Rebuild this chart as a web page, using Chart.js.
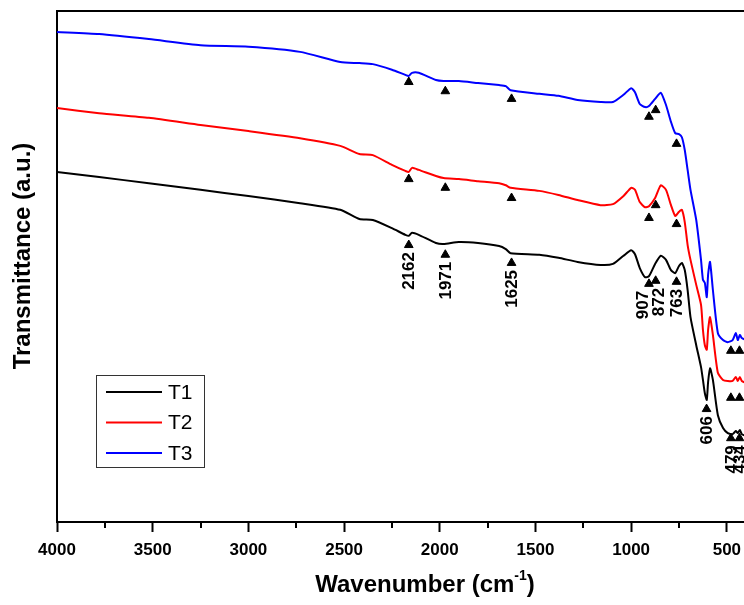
<!DOCTYPE html>
<html>
<head>
<meta charset="utf-8">
<script src="https://cdn.jsdelivr.net/npm/chart.js@4.4.1/dist/chart.umd.min.js"></script>
<style>
  html, body { margin: 0; padding: 0; background: #fff; overflow: hidden; }
  #wrap { position: relative; width: 752px; height: 605px; }
</style>
</head>
<body>
<div id="wrap"><canvas id="ftirChart"></canvas></div>
<script>
// FTIR spectra T1 / T2 / T3 (arbitrary units)
const wavenumbers = [4000, 3780, 3520, 3250, 3000, 2730, 2520, 2420, 2350, 2250, 2180, 2162, 2145, 2110,
  2020, 1980, 1900, 1800, 1690, 1655, 1630, 1480, 1380, 1280, 1160, 1095, 1040, 1000, 980, 955, 927, 907,
  875, 845, 818, 792, 770, 750, 735, 720, 705, 690, 660, 635, 625, 615, 605, 598, 588, 573, 547, 520, 495,
  470, 453, 443, 432, 422, 400];

const seriesT1 = [68.5, 67.5, 66.3, 65.0, 63.8, 62.4, 61.1, 59.3, 59.1, 57.5, 56.2, 56.0, 56.6, 56.2,
  54.6, 54.4, 54.8, 54.6, 54.0, 53.4, 52.6, 52.3, 51.7, 50.9, 50.3, 50.5, 52.1, 53.2, 52.4, 49.7, 47.9, 48.1,
  50.5, 52.1, 51.3, 49.3, 48.7, 50.1, 50.7, 49.3, 45.4, 40.1, 34.6, 30.3, 27.8, 25.2, 23.9, 27.4, 30.1, 27.8,
  20.9, 18.4, 17.4, 17.2, 17.8, 17.4, 18.0, 17.2, 16.8];

const seriesT2 = [81.0, 80.0, 79.1, 77.7, 76.5, 75.1, 73.6, 72.0, 71.8, 69.9, 68.7, 68.5, 69.3, 68.9,
  67.7, 67.3, 67.1, 66.7, 66.3, 65.9, 65.4, 64.8, 64.0, 63.0, 62.0, 62.2, 63.8, 65.4, 65.0, 62.6, 61.6, 61.8,
  63.4, 65.9, 65.0, 62.0, 59.9, 60.7, 61.1, 58.7, 54.2, 51.3, 46.4, 42.5, 37.6, 34.6, 33.7, 37.6, 40.1, 36.6,
  29.2, 27.8, 27.6, 27.6, 28.4, 27.6, 28.4, 27.6, 27.2];

const seriesT3 = [95.9, 95.5, 94.5, 93.3, 93.0, 92.0, 90.0, 89.8, 89.6, 88.5, 87.5, 87.3, 87.9, 87.9,
  86.5, 86.3, 86.3, 85.9, 85.5, 85.3, 84.5, 83.8, 83.4, 82.6, 82.2, 82.2, 83.6, 84.9, 84.1, 81.8, 81.2, 81.4,
  82.8, 84.0, 81.6, 78.3, 76.1, 75.9, 75.3, 72.8, 68.9, 65.0, 59.1, 51.3, 47.4, 46.8, 44.0, 48.4, 50.9, 45.4,
  37.0, 35.6, 35.2, 35.6, 37.0, 35.6, 36.6, 36.0, 35.6];

// band markers (arrow heads) and their labels
const peaksT1 = [2162, 1971, 1625, 907, 872, 763, 606, 479, 434];
const markT1 = [54.2, 52.3, 50.7, 46.6, 47.2, 47.0, 22.1, 16.4, 16.4];
const peaksT2 = [2162, 1971, 1625, 907, 872, 763, 479, 434];
const markT2 = [67.1, 65.4, 63.4, 59.5, 62.0, 58.3, 24.3, 24.3];
const peaksT3 = [2162, 1971, 1625, 907, 872, 763, 479, 434];
const markT3 = [86.1, 84.3, 82.8, 79.3, 80.6, 74.0, 33.5, 33.5];

const seriesNames = ['T1', 'T2', 'T3'];
const seriesColors = ['#000000', '#ff0000', '#0000ff'];

const xMajorTicks = [4000, 3500, 3000, 2500, 2000, 1500, 1000, 500];
const xMinorTicks = [3750, 3250, 2750, 2250, 1750, 1250, 750];

// small sideways nudges so crowded labels don't overlap
const labelNudge = { 907: -7, 872: 3 };

function toPoints(xs, ys) {
  return xs.map((x, i) => ({ x: x, y: ys[i] }));
}

function markerSet(xs, ys) {
  return {
    type: 'scatter',
    data: toPoints(xs, ys),
    pointStyle: 'triangle',
    pointRadius: 5,
    pointBackgroundColor: '#000',
    pointBorderColor: '#000',
    pointBorderWidth: 1
  };
}

// frame, minor ticks, peak labels, legend and axis titles
const decorations = {
  id: 'decorations',
  afterDraw(chart) {
    const c = chart.ctx;
    const area = chart.chartArea;
    const xs = chart.scales.x;
    const ys = chart.scales.y;
    c.save();

    // top + right frame
    c.strokeStyle = '#000';
    c.lineWidth = 2;
    c.beginPath();
    c.moveTo(area.left - 1, area.top);
    c.lineTo(area.right, area.top);
    c.lineTo(area.right, area.bottom);
    c.stroke();

    // minor ticks
    xMinorTicks.forEach(v => {
      const px = Math.round(xs.getPixelForValue(v));
      c.beginPath();
      c.moveTo(px, area.bottom);
      c.lineTo(px, area.bottom + 6);
      c.stroke();
    });

    // peak labels under T1 markers
    c.fillStyle = '#000';
    c.font = 'bold 17px "Liberation Sans", Arial, sans-serif';
    c.textAlign = 'right';
    c.textBaseline = 'middle';
    peaksT1.forEach((p, i) => {
      const px = xs.getPixelForValue(p) + 1 + (labelNudge[p] || 0);
      const py = ys.getPixelForValue(markT1[i]) + 7;
      c.save();
      c.translate(px, py);
      c.rotate(-Math.PI / 2);
      c.fillText(String(p), 0, 0);
      c.restore();
    });

    // legend box
    const lx = 96, ly = 375, lw = 108, lh = 92;
    c.strokeStyle = '#333';
    c.lineWidth = 1;
    c.strokeRect(lx + 0.5, ly + 0.5, lw, lh);
    c.font = '21px "Liberation Sans", Arial, sans-serif';
    c.textAlign = 'left';
    seriesNames.forEach((name, i) => {
      const yy = 392 + i * 30.5;
      c.strokeStyle = seriesColors[i];
      c.lineWidth = 2;
      c.beginPath();
      c.moveTo(106, yy);
      c.lineTo(162, yy);
      c.stroke();
      c.fillStyle = '#000';
      c.fillText(name, 168, yy + 1);
    });

    // x title with superscript
    c.fillStyle = '#000';
    c.textBaseline = 'alphabetic';
    const main = 'Wavenumber (cm';
    c.font = 'bold 24px "Liberation Sans", Arial, sans-serif';
    const w1 = c.measureText(main).width;
    c.font = 'bold 14px "Liberation Sans", Arial, sans-serif';
    const w2 = c.measureText('-1').width;
    c.font = 'bold 24px "Liberation Sans", Arial, sans-serif';
    const w3 = c.measureText(')').width;
    const sx = 425 - (w1 + w2 + w3) / 2;
    c.textAlign = 'left';
    c.fillText(main, sx, 592);
    c.font = 'bold 14px "Liberation Sans", Arial, sans-serif';
    c.fillText('-1', sx + w1, 580);
    c.font = 'bold 24px "Liberation Sans", Arial, sans-serif';
    c.fillText(')', sx + w1 + w2, 592);

    // y title
    c.save();
    c.translate(23, 256);
    c.rotate(-Math.PI / 2);
    c.textAlign = 'center';
    c.textBaseline = 'middle';
    c.font = 'bold 24px "Liberation Sans", Arial, sans-serif';
    c.fillText('Transmittance (a.u.)', 0, 0);
    c.restore();

    c.restore();
  }
};

const bgPlugin = {
  id: 'bg',
  beforeDraw(chart) {
    const c = chart.ctx;
    c.save();
    c.fillStyle = '#fff';
    c.fillRect(0, 0, chart.width, chart.height);
    c.restore();
  }
};

document.addEventListener('DOMContentLoaded', function() {
  const ctx = document.getElementById('ftirChart');
  const lineSets = [seriesT1, seriesT2, seriesT3].map((s, i) => ({
    type: 'line',
    label: seriesNames[i],
    data: toPoints(wavenumbers, s),
    borderColor: seriesColors[i],
    borderWidth: 2,
    pointRadius: 0,
    tension: 0.2,
    fill: false
  }));

  new Chart(ctx, {
    type: 'line',
    data: {
      datasets: lineSets.concat([
        markerSet(peaksT1, markT1),
        markerSet(peaksT2, markT2),
        markerSet(peaksT3, markT3)
      ])
    },
    options: {
      responsive: true,
      maintainAspectRatio: false,
      animation: false,
      layout: { padding: { left: 0, top: 11, right: 4, bottom: 0 } },
      plugins: {
        legend: { display: false },
        tooltip: { enabled: false }
      },
      scales: {
        x: {
          type: 'linear',
          reverse: true,
          min: 400,
          max: 4000,
          afterBuildTicks: function(scale) {
            scale.ticks = xMajorTicks.map(v => ({ value: v }));
          },
          afterFit: function(scale) { scale.height = 83; },
          border: { display: true, color: '#000', width: 2 },
          grid: { drawOnChartArea: false, drawTicks: true, tickLength: 10, tickWidth: 2, tickColor: '#000' },
          ticks: {
            color: '#000',
            padding: 8,
            maxRotation: 0,
            autoSkip: false,
            callback: function(value) { return String(value); },
            font: { family: '"Liberation Sans", Arial, sans-serif', size: 17, weight: 'bold' }
          }
        },
        y: {
          min: 0,
          max: 100,
          afterFit: function(scale) { scale.width = 57; },
          border: { display: true, color: '#000', width: 2 },
          grid: { display: false },
          ticks: { display: false }
        }
      }
    },
    plugins: [bgPlugin, decorations]
  });
});
</script>
</body>
</html>
